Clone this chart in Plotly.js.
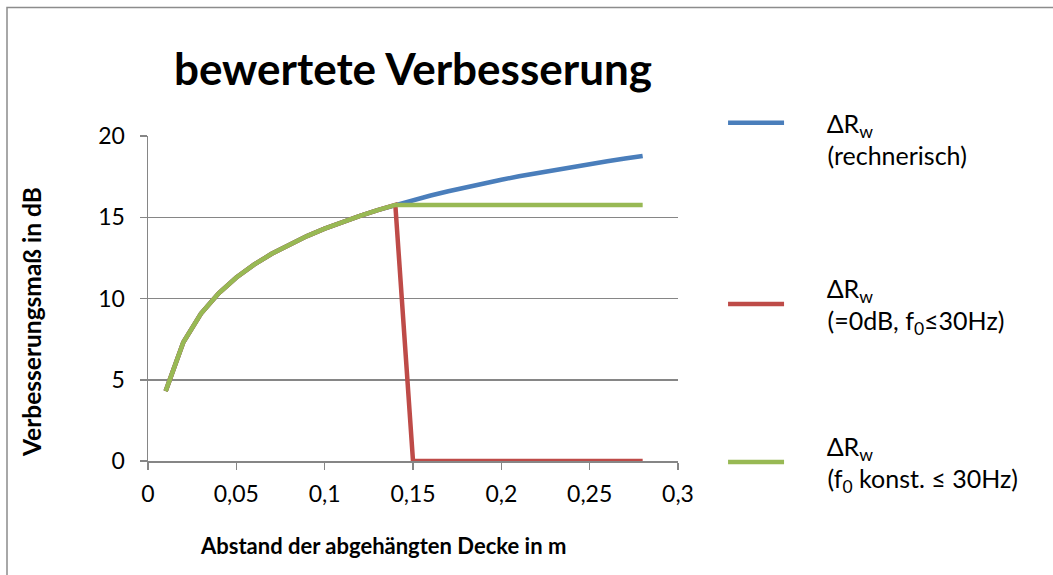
<!DOCTYPE html>
<html>
<head>
<meta charset="utf-8">
<script src="https://cdn.plot.ly/plotly-3.0.1.min.js"></script>
<style>
html,body{margin:0;padding:0;background:#fff;}
#chart{width:1053px;height:575px;}
</style>
</head>
<body>
<div id="chart"></div>
<script>
// Abstand der abgehängten Decke in m
const abstand = [0.01,0.02,0.03,0.04,0.05,0.06,0.07,0.08,0.09,0.10,0.11,0.12,0.13,0.14,
                 0.15,0.16,0.17,0.18,0.19,0.20,0.21,0.22,0.23,0.24,0.25,0.26,0.27,0.28];
// ΔRw (rechnerisch)
const dRwRechnerisch = [4.30,7.31,9.07,10.32,11.29,12.08,12.75,13.33,13.84,14.30,14.71,15.09,15.44,15.76,
                        16.06,16.34,16.60,16.85,17.09,17.31,17.52,17.72,17.92,18.10,18.28,18.45,18.61,18.77];
// ΔRw (=0dB, f0 ≤ 30Hz)
const dRwNull = [4.30,7.31,9.07,10.32,11.29,12.08,12.75,13.33,13.84,14.30,14.71,15.09,15.44,15.76,
                 0,0,0,0,0,0,0,0,0,0,0,0,0,0];
// ΔRw (f0 konst. ≤ 30Hz)
const dRwKonst = [4.30,7.31,9.07,10.32,11.29,12.08,12.75,13.33,13.84,14.30,14.71,15.09,15.44,15.76,
                  15.76,15.76,15.76,15.76,15.76,15.76,15.76,15.76,15.76,15.76,15.76,15.76,15.76,15.76];

const IND = "\u00a0\u00a0\u00a0\u00a0\u00a0\u00a0";
const seriesNames = [
  IND + "ΔR<sub>w</sub><br>" + IND + "(rechnerisch)",
  IND + "ΔR<sub>w</sub><br>" + IND + "(=0dB, f<sub>0</sub>≤30Hz)",
  IND + "ΔR<sub>w</sub><br>" + IND + "(f<sub>0</sub> konst. ≤ 30Hz)"
];
const seriesColors = ["#4A7EBB", "#BE4B48", "#98B954"];
const xTickVals = [0,0.05,0.1,0.15,0.2,0.25,0.3];
const xTickText = ["0","0,05","0,1","0,15","0,2","0,25","0,3"];
const yTickVals = [0,5,10,15,20];
const chartTitle = "bewertete Verbesserung";
const xTitle = "Abstand der abgehängten Decke in m";
const yTitle = "Verbesserungsmaß in dB";

const FONT = "Lato, 'Open Sans', sans-serif";
const legendIds = ["legend", "legend2", "legend3"];
const ys = [dRwRechnerisch, dRwNull, dRwKonst];
const traces = ys.map((y, i) => ({
  x: abstand, y: y, type: "scatter", mode: "lines",
  name: seriesNames[i], legend: legendIds[i],
  line: {color: seriesColors[i], width: 4.5, shape: "linear"},
  hoverinfo: "x+y"
}));

// pixel helpers for paper-positioned decorations (plot area: 148..678 x 136..461)
const px = v => (v - 148) / 530;
const py = v => (461 - v) / 325;

const legendCenters = [139, 304, 462];
const legendValign = ["top", "middle", "middle"];
const mkLegend = i => ({
  x: 1.085, xanchor: "left", y: py(legendCenters[i]), yanchor: "middle",
  font: {size: 25, family: FONT, color: "#000"},
  itemwidth: 56, valign: legendValign[i], bgcolor: "rgba(0,0,0,0)"
});

const layout = {
  width: 1053, height: 575,
  paper_bgcolor: "#fff", plot_bgcolor: "#fff",
  margin: {l: 148, r: 375, t: 136, b: 114},
  font: {family: FONT, color: "#000", size: 23},
  title: {text: "<b>" + chartTitle + "</b>", font: {family: FONT, size: 44, color: "#000"},
          x: 0.5, xref: "paper", xanchor: "center", y: 1 - 70/575, yanchor: "middle"},
  xaxis: {
    range: [0, 0.3], tickvals: xTickVals, ticktext: xTickText,
    showgrid: false, zeroline: false, showline: true, linecolor: "#868686", linewidth: 1.5,
    ticks: "outside", ticklen: 7, tickcolor: "#868686", tickwidth: 1.5, ticklabelstandoff: 5,
    tickfont: {size: 23, family: FONT}, fixedrange: true
  },
  yaxis: {
    range: [0, 20], tickvals: yTickVals,
    showgrid: true, gridcolor: "#868686", gridwidth: 1.5,
    zeroline: false, showline: true, linecolor: "#868686", linewidth: 1.5,
    ticks: "outside", ticklen: 7, tickcolor: "#868686", tickwidth: 1.5, ticklabelstandoff: 10,
    tickfont: {size: 23, family: FONT}, fixedrange: true
  },
  annotations: [
    {text: "<b>" + xTitle + "</b>", xref: "paper", yref: "paper", x: px(383), y: py(545),
     xanchor: "center", yanchor: "middle", showarrow: false, font: {size: 22, family: FONT, color: "#000"}},
    {text: "<b>" + yTitle + "</b>", xref: "paper", yref: "paper", x: px(31), y: py(322),
     xanchor: "center", yanchor: "middle", textangle: -90, showarrow: false,
     font: {size: 24.5, family: FONT, color: "#000"}}
  ],
  legend: mkLegend(0),
  legend2: mkLegend(1),
  legend3: mkLegend(2),
  shapes: [{
    type: "rect", xref: "paper", yref: "paper",
    x0: px(7), x1: px(1060), y0: py(585), y1: py(7.5),
    line: {color: "#8C8C8C", width: 1.5}, fillcolor: "rgba(0,0,0,0)", layer: "below"
  }],
  showlegend: true
};

Plotly.newPlot("chart", traces, layout, {displayModeBar: false, staticPlot: true});
</script>
</body>
</html>
